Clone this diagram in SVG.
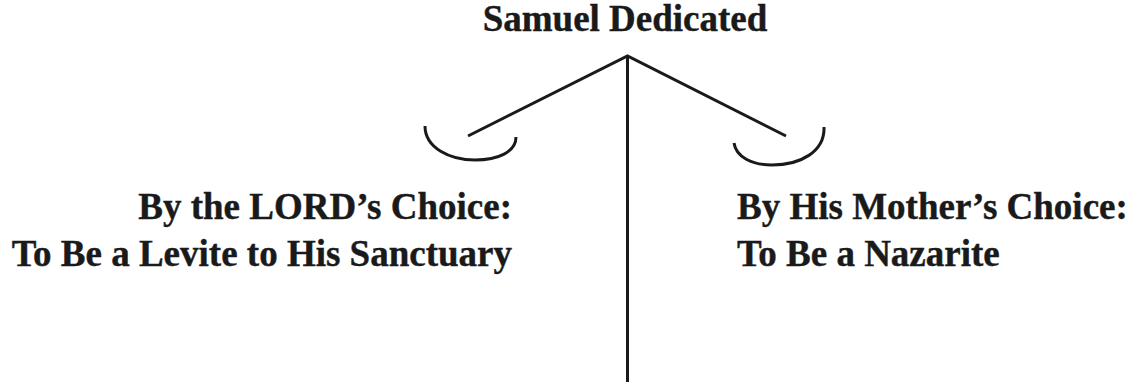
<svg xmlns="http://www.w3.org/2000/svg" width="1126" height="383" viewBox="0 0 1126 383">
<style>
.t{font-family:"Liberation Serif","Times New Roman",serif;font-weight:bold;font-size:37px;fill:#1a1a1a;stroke:#1a1a1a;stroke-width:0.4}
.ln{fill:none;stroke:#1a1a1a;stroke-width:3;stroke-linecap:butt}
</style>
<rect width="1126" height="383" fill="#ffffff"/>
<g id="title"><text class="t" x="625" y="31" text-anchor="middle">Samuel Dedicated</text></g>
<g id="left"><text class="t" x="512" y="219" text-anchor="end">By the LORD’s Choice:</text><text class="t" x="512" y="266" text-anchor="end">To Be a Levite to His Sanctuary</text></g>
<g id="right"><text class="t" x="737" y="219">By His Mother’s Choice:</text><text class="t" x="737" y="266">To Be a Nazarite</text></g>
<g id="connectors">
<path class="ln" d="M627.5,56 L627.5,382"/>
<path class="ln" d="M468,136 L627.5,56 L786,136"/>
<path class="ln" d="M425,126 C425,148 450,160 475,160 C498,160 516,152 516,137"/>
<path class="ln" d="M734,143 C736,157 752,165 772,165 C800,165 825,152 824,127"/>
</g>
</svg>
